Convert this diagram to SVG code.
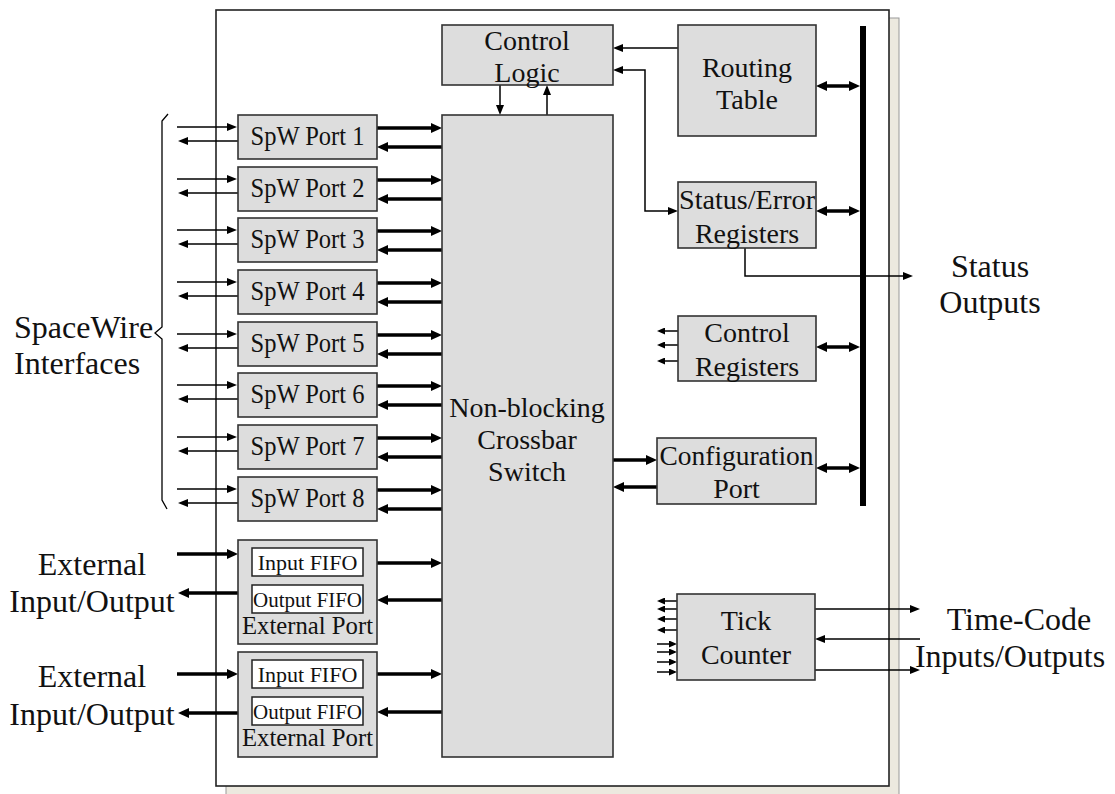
<svg xmlns="http://www.w3.org/2000/svg" width="1115" height="794" viewBox="0 0 1115 794">
<defs>
<style>
.box{fill:#dddddd;stroke:#333;stroke-width:1.6}
.fifo{fill:#fff;stroke:#222;stroke-width:1.5}
.t{font-family:"Liberation Serif","Times New Roman",serif;fill:#111;text-anchor:middle}
.in{font-size:28px}
.spw{font-size:27px}
.ff{font-size:22px}
.ep{font-size:26px}
.out{font-size:32px}
.thin{stroke:#000;stroke-width:1.5;fill:none}
.thick{stroke:#000;stroke-width:3.5;fill:none}
.tn{marker-end:url(#ah)}
.tk{marker-end:url(#ahk)}
.sm{marker-end:url(#ahs)}
.dbl{marker-start:url(#ahk2);marker-end:url(#ahk2)}
</style>
<marker id="ah" markerUnits="userSpaceOnUse" markerWidth="10" markerHeight="8" refX="7" refY="4" orient="auto"><path d="M0,0 L10,4 L0,8 z" fill="#000"/></marker>
<marker id="ah2" markerUnits="userSpaceOnUse" markerWidth="10" markerHeight="8" refX="7" refY="4" orient="auto-start-reverse"><path d="M0,0 L10,4 L0,8 z" fill="#000"/></marker>
<marker id="ahs" markerUnits="userSpaceOnUse" markerWidth="8" markerHeight="7" refX="6" refY="3.5" orient="auto"><path d="M0,0 L8,3.5 L0,7 z" fill="#000"/></marker>
<marker id="ahk" markerUnits="userSpaceOnUse" markerWidth="11" markerHeight="10" refX="5" refY="5" orient="auto"><path d="M0,0 L11,5 L0,10 z" fill="#000"/></marker>
<marker id="ahk2" markerUnits="userSpaceOnUse" markerWidth="11" markerHeight="10" refX="5" refY="5" orient="auto-start-reverse"><path d="M0,0 L11,5 L0,10 z" fill="#000"/></marker>
</defs>
<rect width="1115" height="794" fill="#fff"/>
<g id="frame">
<rect x="226" y="18" width="673" height="778" fill="#ece9df" stroke="#999" stroke-width="1"/>
<rect x="216" y="10" width="673" height="776" fill="#fff" stroke="#222" stroke-width="1.6"/>
</g>
<g id="labels">
<text class="t out" x="14" y="338" style="text-anchor:start">SpaceWire</text>
<text class="t out" x="14" y="374" style="text-anchor:start">Interfaces</text>
<path d="M168,114 L162,121 L162,327 L155,333 L162,339 L162,500 L167,509" fill="none" stroke="#000" stroke-width="1.3"/>
<text class="t out" x="92" y="575">External</text>
<text class="t out" x="92" y="612">Input/Output</text>
<text class="t out" x="92" y="687">External</text>
<text class="t out" x="92" y="725">Input/Output</text>
<text class="t out" x="990" y="277">Status</text>
<text class="t out" x="990" y="313">Outputs</text>
<text class="t out" x="1019" y="630">Time-Code</text>
<text class="t out" x="1010" y="667">Inputs/Outputs</text>
</g>
<g id="connectors">
<g class="thin tn">
<path d="M177,127H234"/><path d="M177,179H234"/><path d="M177,230H234"/><path d="M177,282H234"/>
<path d="M177,334H234"/><path d="M177,385H234"/><path d="M177,437H234"/><path d="M177,489H234"/>
<path d="M238,141H181"/><path d="M238,193H181"/><path d="M238,244H181"/><path d="M238,296H181"/>
<path d="M238,348H181"/><path d="M238,399H181"/><path d="M238,451H181"/><path d="M238,503H181"/>
</g>
<g class="thick tk">
<path d="M377,128H436"/><path d="M377,180H436"/><path d="M377,231H436"/><path d="M377,283H436"/>
<path d="M377,335H436"/><path d="M377,386H436"/><path d="M377,438H436"/><path d="M377,490H436"/>
<path d="M442,147H383"/><path d="M442,199H383"/><path d="M442,250H383"/><path d="M442,302H383"/>
<path d="M442,354H383"/><path d="M442,405H383"/><path d="M442,457H383"/><path d="M442,509H383"/>
<path d="M177,554H232"/><path d="M238,593H184"/><path d="M377,563H436"/><path d="M442,600H383"/>
<path d="M177,674H232"/><path d="M238,713H184"/><path d="M377,674H436"/><path d="M442,712H383"/>
<path d="M613,460H651"/><path d="M657,487H619"/>
</g>
<g class="thick dbl">
<path d="M822,86H854"/><path d="M822,211H854"/><path d="M822,347H854"/><path d="M822,468H854"/>
</g>
<g class="thin tn">
<path d="M500,85V112"/><path d="M547,115V88"/>
<path d="M678,48H616"/>
<path d="M616,70H645V211H675" style="marker-start:url(#ah2)"/>
<path d="M745,248V276H910"/>
<path d="M815,609H917"/><path d="M920,639H818"/><path d="M815,670H917"/>
</g>
<g class="thin sm">
<path d="M678,331H659"/><path d="M678,345H659"/><path d="M678,361H659"/>
<path d="M677,601H659"/><path d="M677,609H659"/><path d="M677,619H659"/><path d="M677,630H659"/>
<path d="M657,644H675"/><path d="M657,652H675"/><path d="M657,662H675"/><path d="M657,672H675"/>
</g>
</g>
<g id="bus"><rect x="860" y="26" width="6" height="480" fill="#000"/></g>
<g id="control-logic">
<rect class="box" x="442" y="25" width="171" height="60"/>
<text class="t in" x="527" y="50">Control</text>
<text class="t in" x="527" y="82">Logic</text>
</g>
<g id="crossbar">
<rect class="box" x="442" y="115" width="171" height="642"/>
<text class="t in" x="527" y="417">Non-blocking</text>
<text class="t in" x="527" y="449">Crossbar</text>
<text class="t in" x="527" y="481">Switch</text>
</g>
<g id="routing-table">
<rect class="box" x="678" y="25" width="138" height="111"/>
<text class="t in" x="747" y="77">Routing</text>
<text class="t in" x="747" y="109">Table</text>
</g>
<g id="status-error">
<rect class="box" x="678" y="182" width="138" height="66"/>
<text class="t in" x="747" y="209" textLength="136" lengthAdjust="spacingAndGlyphs">Status/Error</text>
<text class="t in" x="747" y="243">Registers</text>
</g>
<g id="control-registers">
<rect class="box" x="678" y="316" width="138" height="65"/>
<text class="t in" x="747" y="342">Control</text>
<text class="t in" x="747" y="376">Registers</text>
</g>
<g id="configuration-port">
<rect class="box" x="657" y="438" width="159" height="66"/>
<text class="t in" x="736.5" y="465" textLength="154" lengthAdjust="spacingAndGlyphs">Configuration</text>
<text class="t in" x="736.5" y="498">Port</text>
</g>
<g id="tick-counter">
<rect class="box" x="677" y="594" width="138" height="86"/>
<text class="t in" x="746" y="630">Tick</text>
<text class="t in" x="746" y="664">Counter</text>
</g>
<g id="spw-port-1"><rect class="box" x="238" y="115" width="139" height="44"/><text class="t spw" x="307.5" y="145" textLength="114" lengthAdjust="spacingAndGlyphs">SpW Port 1</text></g>
<g id="spw-port-2"><rect class="box" x="238" y="167" width="139" height="44"/><text class="t spw" x="307.5" y="197" textLength="114" lengthAdjust="spacingAndGlyphs">SpW Port 2</text></g>
<g id="spw-port-3"><rect class="box" x="238" y="218" width="139" height="44"/><text class="t spw" x="307.5" y="248" textLength="114" lengthAdjust="spacingAndGlyphs">SpW Port 3</text></g>
<g id="spw-port-4"><rect class="box" x="238" y="270" width="139" height="44"/><text class="t spw" x="307.5" y="300" textLength="114" lengthAdjust="spacingAndGlyphs">SpW Port 4</text></g>
<g id="spw-port-5"><rect class="box" x="238" y="322" width="139" height="44"/><text class="t spw" x="307.5" y="352" textLength="114" lengthAdjust="spacingAndGlyphs">SpW Port 5</text></g>
<g id="spw-port-6"><rect class="box" x="238" y="373" width="139" height="44"/><text class="t spw" x="307.5" y="403" textLength="114" lengthAdjust="spacingAndGlyphs">SpW Port 6</text></g>
<g id="spw-port-7"><rect class="box" x="238" y="425" width="139" height="44"/><text class="t spw" x="307.5" y="455" textLength="114" lengthAdjust="spacingAndGlyphs">SpW Port 7</text></g>
<g id="spw-port-8"><rect class="box" x="238" y="477" width="139" height="44"/><text class="t spw" x="307.5" y="507" textLength="114" lengthAdjust="spacingAndGlyphs">SpW Port 8</text></g>
<g id="external-port-1">
<rect class="box" x="238" y="540" width="139" height="104"/>
<rect class="fifo" x="252" y="548" width="111" height="28"/>
<text class="t ff" x="307.5" y="570">Input FIFO</text>
<rect class="fifo" x="252" y="585" width="111" height="28"/>
<text class="t ff" x="307.5" y="607" textLength="109" lengthAdjust="spacingAndGlyphs">Output FIFO</text>
<text class="t ep" x="307.5" y="634" textLength="131" lengthAdjust="spacingAndGlyphs">External Port</text>
</g>
<g id="external-port-2">
<rect class="box" x="238" y="652" width="139" height="105"/>
<rect class="fifo" x="252" y="660" width="111" height="28"/>
<text class="t ff" x="307.5" y="682">Input FIFO</text>
<rect class="fifo" x="252" y="697" width="111" height="28"/>
<text class="t ff" x="307.5" y="719" textLength="109" lengthAdjust="spacingAndGlyphs">Output FIFO</text>
<text class="t ep" x="307.5" y="746" textLength="131" lengthAdjust="spacingAndGlyphs">External Port</text>
</g>
</svg>
